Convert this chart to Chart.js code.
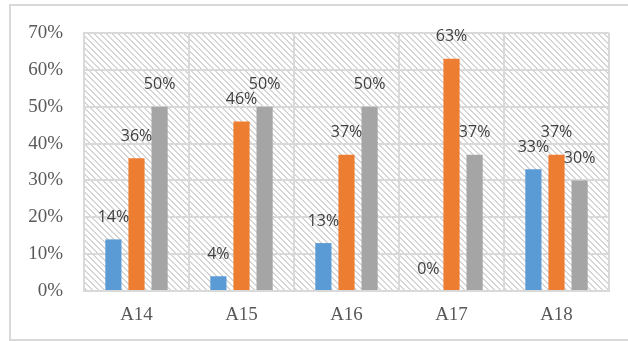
<!DOCTYPE html>
<html>
<head>
<meta charset="utf-8">
<script src="https://cdn.jsdelivr.net/npm/chart.js@4"></script>
<style>
  html, body { margin: 0; padding: 0; background: #fff; }
  #wrap { width: 628px; height: 341px; }
</style>
</head>
<body>
<div id="wrap"><canvas id="chart" width="628" height="341"></canvas></div>
<script>
const categories = ["A14", "A15", "A16", "A17", "A18"]
const seriesBlue = [14, 4, 13, 0, 33]
const seriesOrange = [36, 46, 37, 63, 37]
const seriesGray = [50, 50, 50, 37, 30]
const yTicks = [0, 10, 20, 30, 40, 50, 60, 70]

// hatched plot background, crisp "\" stairs
const makeHatch = () => {
    const c = document.createElement("canvas")
    c.width = 6
    c.height = 6
    const g = c.getContext("2d")
    g.fillStyle = "#d6d6d6"
    for (let i = 0; i < 6; i++) {
        g.fillRect(i, i, 1, 1)
        g.fillRect((i + 1) % 6, i, 1, 1)
    }
    return c
}

const hatchPlugin = {
    id: "hatch",
    beforeDraw(chart) {
        const { ctx, chartArea: a } = chart
        ctx.save()
        ctx.fillStyle = ctx.createPattern(makeHatch(), "repeat")
        ctx.fillRect(a.left, a.top, a.right - a.left, a.bottom - a.top)
        // outer frame
        ctx.strokeStyle = "#d9d9d9"
        ctx.lineWidth = 2
        ctx.strokeRect(10, 5, 700, 335)
        ctx.restore()
    }
}

const labelPlugin = {
    id: "valueLabels",
    afterDatasetsDraw(chart) {
        const ctx = chart.ctx
        ctx.save()
        ctx.font = "16px 'Open Sans'"
        ctx.fillStyle = "#404040"
        ctx.textAlign = "center"
        ctx.textBaseline = "middle"
        chart.data.datasets.forEach((ds, i) => {
            chart.getDatasetMeta(i).data.forEach((bar, j) => {
                ctx.fillText(ds.data[j] + "%", bar.x, bar.y - 22)
            })
        })
        ctx.restore()
    }
}

const gridColor = "#d9d9d9"

new Chart(document.getElementById("chart").getContext("2d"), {
    type: "bar",
    data: {
        labels: categories,
        datasets: [
            { data: seriesBlue, backgroundColor: "#5b9bd5" },
            { data: seriesOrange, backgroundColor: "#ed7d31" },
            { data: seriesGray, backgroundColor: "#a5a5a5" }
        ]
    },
    options: {
        responsive: false,
        animation: false,
        devicePixelRatio: 1,
        layout: { padding: { top: 33, right: 19, left: 0, bottom: 0 } },
        plugins: { legend: { display: false }, tooltip: { enabled: false } },
        datasets: { bar: { categoryPercentage: 0.66, barPercentage: 0.7 } },
        scales: {
            x: {
                grid: { color: gridColor, lineWidth: 2, drawTicks: false },
                border: { color: gridColor, width: 2 },
                ticks: {
                    color: "#595959",
                    font: { family: "'Liberation Serif'", size: 19 },
                    padding: 13
                },
                afterFit: (s) => { s.height = 50 }
            },
            y: {
                min: 0,
                max: 70,
                afterBuildTicks: (s) => { s.ticks = yTicks.map(v => ({ value: v })) },
                grid: { color: gridColor, lineWidth: 2, drawTicks: false },
                border: { color: gridColor, width: 2 },
                ticks: {
                    color: "#595959",
                    font: { family: "'Liberation Serif'", size: 19 },
                    padding: 21,
                    callback: (v) => v + "%"
                },
                afterFit: (s) => { s.width = 84 }
            }
        }
    },
    plugins: [hatchPlugin, labelPlugin]
})
</script>
</body>
</html>
